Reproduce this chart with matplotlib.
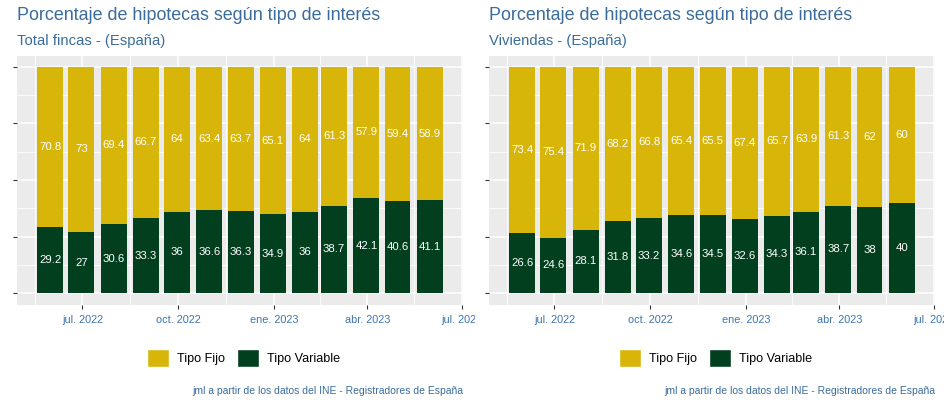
import matplotlib
matplotlib.use('Agg')
import matplotlib.pyplot as plt
import matplotlib.dates as mdates
from matplotlib.patches import Patch
from matplotlib.transforms import Bbox, TransformedBbox
import numpy as np
import pandas as pd

plt.rcParams['font.family'] = ['Liberation Sans', 'DejaVu Sans']

# monthly data (end of month), may 2022 .. may 2023
months = pd.date_range('2022-05-31', '2023-05-31', freq='ME')

fincas_fijo = [70.8, 73, 69.4, 66.7, 64, 63.4, 63.7, 65.1, 64, 61.3, 57.9, 59.4, 58.9]
fincas_variable = [29.2, 27, 30.6, 33.3, 36, 36.6, 36.3, 34.9, 36, 38.7, 42.1, 40.6, 41.1]

viviendas_fijo = [73.4, 75.4, 71.9, 68.2, 66.8, 65.4, 65.5, 67.4, 65.7, 63.9, 61.3, 62, 60]
viviendas_variable = [26.6, 24.6, 28.1, 31.8, 33.2, 34.6, 34.5, 32.6, 34.3, 36.1, 38.7, 38, 40]

tick_dates = pd.to_datetime(['2022-07-01', '2022-10-01', '2023-01-01', '2023-04-01', '2023-07-01'])
tick_labels = ['jul. 2022', 'oct. 2022', 'ene. 2023', 'abr. 2023', 'jul. 2023']
minor_dates = pd.to_datetime(['2022-05-16', '2022-08-16', '2022-11-16', '2023-02-14', '2023-05-16'])

titulo = 'Porcentaje de hipotecas según tipo de interés'
caption = 'jml a partir de los datos del INE - Registradores de España'

col_fijo = '#D8B509'
col_var = '#023F1F'
col_blue = '#3B6C9C'
col_tick = '#3E74AE'

W, H = 944, 404
fig = plt.figure(figsize=(W / 100, H / 100), dpi=100)


def panel(x0, subtitulo, fijo, variable):
    ax = fig.add_axes([x0 / W, (H - 305) / H, 446 / W, 249 / H])
    ax.set_facecolor('#EBEBEB')
    for s in ax.spines.values():
        s.set_visible(False)

    fijo = np.array(fijo)
    variable = np.array(variable)
    tot = fijo + variable
    pv = variable / tot
    pf = fijo / tot
    x = mdates.date2num(months)
    w = 25
    ax.bar(x, pv, width=w, color=col_var, zorder=3)
    ax.bar(x, pf, width=w, bottom=pv, color=col_fijo, zorder=3)
    for xi, a, b, va_, vb in zip(x, pv, pf, variable, fijo):
        ax.text(xi, a / 2, f'{va_:g}', ha='center', va='center', color='white', fontsize=8.2, zorder=4)
        ax.text(xi, a + b / 2, f'{vb:g}', ha='center', va='center', color='white', fontsize=8.2, zorder=4)

    ax.set_xlim(mdates.date2num(pd.Timestamp('2022-04-29')), mdates.date2num(pd.Timestamp('2023-07-02')))
    ax.set_ylim(-0.052, 1.048)

    ax.set_xticks(mdates.date2num(tick_dates))
    ax.set_xticklabels(tick_labels, color=col_tick, fontsize=7.8)
    ax.set_xticks(mdates.date2num(minor_dates), minor=True)
    ax.set_yticks([0, 0.25, 0.5, 0.75, 1])
    ax.set_yticklabels([])
    ax.set_yticks([0.125, 0.375, 0.625, 0.875], minor=True)
    ax.tick_params(axis='both', which='major', length=3, width=0.8, color='#333333', pad=4)
    ax.tick_params(axis='both', which='minor', length=0)
    ax.grid(True, which='major', color='white', linewidth=1.1, zorder=0)
    ax.grid(True, which='minor', color='white', linewidth=0.6, zorder=0)
    ax.set_axisbelow(True)

    fig.text(x0 / W, (H - 20) / H, titulo, fontsize=12.9, color=col_blue, va='baseline')
    fig.text(x0 / W, (H - 45) / H, subtitulo, fontsize=10.7, color=col_blue, va='baseline')

    handles = [Patch(facecolor=col_fijo, edgecolor='white', label='Tipo Fijo'),
               Patch(facecolor=col_var, edgecolor='white', label='Tipo Variable')]
    ax.legend(handles=handles, loc='center', bbox_to_anchor=(0.508, -0.213), ncol=2,
              frameon=False, fontsize=9.1, handlelength=1.75, handleheight=1.75,
              handletextpad=0.6, columnspacing=1.0)

    fig.text((x0 + 446) / W, (H - 391) / H, caption, fontsize=7.5, color=col_blue,
             ha='right', va='center')
    return ax


ax1 = panel(17, 'Total fincas - (España)', fincas_fijo, fincas_variable)
ax2 = panel(489, 'Viviendas - (España)', viviendas_fijo, viviendas_variable)

# last tick label of the left plot is cut at the plot border
lbl = ax1.xaxis.get_major_ticks()[-1].label1
lbl.set_clip_box(TransformedBbox(Bbox([[0, 0], [0.503, 1]]), fig.transFigure))
lbl.set_clip_on(True)

fig.savefig('out.png', dpi=100)
